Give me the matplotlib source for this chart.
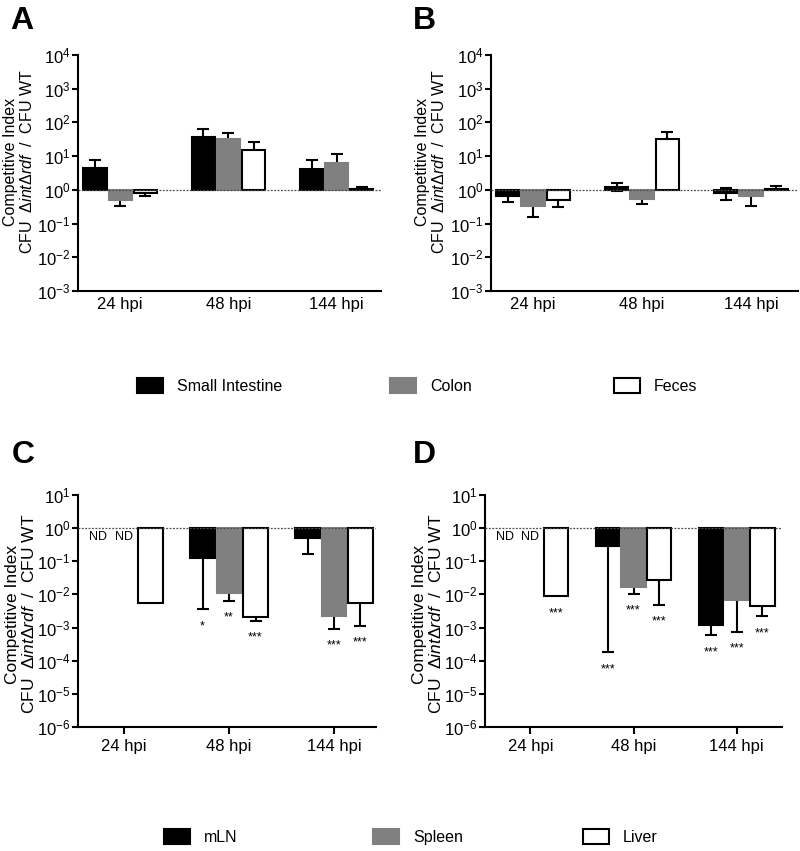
import matplotlib
matplotlib.use("Agg")
import matplotlib.pyplot as plt
import numpy as np
from matplotlib.patches import Patch

plt.rcParams["font.family"] = ["Liberation Sans", "DejaVu Sans"]
plt.rcParams["mathtext.fontset"] = "custom"
plt.rcParams["mathtext.rm"] = "Liberation Sans"
plt.rcParams["mathtext.it"] = "Liberation Sans:italic"
plt.rcParams["mathtext.bf"] = "Liberation Sans:bold"

timepoints = ["24 hpi", "48 hpi", "144 hpi"]
gut_sites = ["Small Intestine", "Colon", "Feces"]
systemic_sites = ["mLN", "Spleen", "Liver"]

# mean competitive index and end of the drawn error bar (None = not drawn / ND)
a_si = [4.4, 37, 4.2]
a_si_err = [7.9, 62, 7.8]
a_colon = [0.51, 33, 6.3]
a_colon_err = [0.33, 50, 11.7]
a_feces = [0.8, 15.5, 1.07]
a_feces_err = [0.64, 26, 1.25]

b_si = [0.64, 1.25, 0.8]
b_si_err = [0.45, 1.57, 0.51]
b_si_err_other = [None, 0.93, 1.15]
b_colon = [0.34, 0.53, 0.67]
b_colon_err = [0.16, 0.37, 0.34]
b_feces = [0.51, 32, 1.03]
b_feces_err = [0.32, 53, 1.3]

c_mln = [None, 0.13, 0.5]
c_mln_err = [None, 0.0036, 0.17]
c_spleen = [None, 0.011, 0.0023]
c_spleen_err = [None, 0.0065, 0.00091]
c_liver = [0.0054, 0.0021, 0.0056]
c_liver_err = [None, 0.0016, 0.00115]
c_mln_sig = ["ND", "*", ""]
c_spleen_sig = ["ND", "**", "***"]
c_liver_sig = ["", "***", "***"]

d_mln = [None, 0.29, 0.00123]
d_mln_err = [None, 0.00018, 0.00059]
d_spleen = [None, 0.0166, 0.0068]
d_spleen_err = [None, 0.0104, 0.00074]
d_liver = [0.0089, 0.0275, 0.0045]
d_liver_err = [None, 0.0049, 0.0022]
d_mln_sig = ["ND", "***", "***"]
d_spleen_sig = ["ND", "***", "***"]
d_liver_sig = ["***", "***", "***"]

fills = ["black", "#808080", "white"]
edges = ["black", "#808080", "black"]

W, H = 800, 851
fig = plt.figure(figsize=(W / 100, H / 100), dpi=100)


def px_axes(l, r, t, b):
    return fig.add_axes([l / W, 1 - b / H, (r - l) / W, (b - t) / H])


def err_line(ax, x, m, e, z=1):
    ax.plot([x, x], [m, e], color="black", lw=1.5, zorder=z, solid_capstyle="butt")
    ax.plot([x], [e], marker="_", ms=9, mew=1.5, color="black", zorder=z)


def panel(ax, means, errs, sigs, offset, width, ylim, xlim, fs, lfs, xticklen):
    x = np.arange(len(timepoints))
    for k in range(3):
        for i in range(3):
            m = means[k][i]
            if m is None:
                continue
            xi = x[i] + (k - 1) * offset
            ax.bar(xi, m - 1, bottom=1, width=width, color=fills[k],
                   edgecolor=edges[k], linewidth=1.5, zorder=2)
            if errs[k][i] is not None:
                err_line(ax, xi, m, errs[k][i])
    if sigs is not None:
        for k in range(3):
            for i in range(3):
                s = sigs[k][i]
                if not s:
                    continue
                xi = x[i] + (k - 1) * offset
                if s == "ND":
                    ax.annotate(s, (xi, 1), xytext=(0, -9), textcoords="offset pixels",
                                ha="center", va="center", fontsize=9)
                else:
                    vals = [v for v in (means[k][i], errs[k][i]) if v is not None]
                    ax.annotate(s, (xi, min(vals)), xytext=(0, -17),
                                textcoords="offset pixels", ha="center", va="center",
                                fontsize=9)
    ax.axhline(1, color="0.3", lw=0.9, ls=(0, (1.5, 1.2)), zorder=3)
    ax.set_yscale("log")
    ax.set_ylim(*ylim)
    ax.set_xlim(*xlim)
    ax.minorticks_off()
    ax.set_yticks([10.0 ** p for p in range(int(np.log10(ylim[0])), int(np.log10(ylim[1])) + 1)])
    ax.set_xticks(x, timepoints)
    for s in ["top", "right"]:
        ax.spines[s].set_visible(False)
    for s in ["left", "bottom"]:
        ax.spines[s].set_linewidth(1.5)
    ax.tick_params(axis="y", length=4, width=1.5, pad=1.5, labelsize=fs)
    ax.tick_params(axis="x", length=xticklen, width=1.5, pad=4, labelsize=fs)
    ax.set_ylabel("Competitive Index\nCFU  $\\mathit{\\Delta int\\Delta rdf}$  /  CFU WT",
                  fontsize=lfs, linespacing=1.1)


axA = px_axes(78, 381, 55, 291)
panel(axA, [a_si, a_colon, a_feces], [a_si_err, a_colon_err, a_feces_err], None,
      0.232, 0.215, (1e-3, 1e4), (-0.39, 2.41), 12, 11.5, 0)
axA.yaxis.set_label_coords((35 - 78) / 303, (291 - 162) / 236)

axB = px_axes(491, 798, 55, 291)
panel(axB, [b_si, b_colon, b_feces], [b_si_err, b_colon_err, b_feces_err], None,
      0.232, 0.215, (1e-3, 1e4), (-0.385, 2.43), 12, 11.5, 0)
xb = np.arange(3) - 0.232
for i, e in enumerate(b_si_err_other):
    if e is not None:
        err_line(axB, xb[i], b_si[i], e, z=1)
axB.yaxis.set_label_coords((447 - 491) / 307, (291 - 162) / 236)

axC = px_axes(78, 376, 495, 727)
panel(axC, [c_mln, c_spleen, c_liver], [c_mln_err, c_spleen_err, c_liver_err],
      [c_mln_sig, c_spleen_sig, c_liver_sig], 0.252, 0.235, (1e-6, 1e1), (-0.44, 2.40),
      12, 12.5, 5)
axC.yaxis.set_label_coords((37 - 78) / 298, (727 - 614) / 232)

axD = px_axes(485, 782, 495, 727)
panel(axD, [d_mln, d_spleen, d_liver], [d_mln_err, d_spleen_err, d_liver_err],
      [d_mln_sig, d_spleen_sig, d_liver_sig], 0.25, 0.235, (1e-6, 1e1), (-0.44, 2.44),
      12, 12.5, 5)
axD.yaxis.set_label_coords((444 - 485) / 297, (727 - 614) / 232)

for letter, x, y in [("A", 10, 6), ("B", 413, 6), ("C", 12, 440), ("D", 413, 440)]:
    fig.text(x / W, 1 - y / H, letter, fontsize=23, fontweight="bold", va="top", ha="left")


def legend_item(label, k, x, y):
    h = Patch(facecolor=fills[k], edgecolor=edges[k], linewidth=1.5)
    fig.legend([h], [label], loc="center left", bbox_to_anchor=(x / W, 1 - y / H),
               frameon=False, fontsize=11.5, handlelength=1.65, handleheight=1.05,
               handletextpad=0.85, borderpad=0, borderaxespad=0)


for k, (lab, x) in enumerate(zip(gut_sites, [137, 390, 614])):
    legend_item(lab, k, x, 386)
for k, (lab, x) in enumerate(zip(systemic_sites, [164, 373, 583])):
    legend_item(lab, k, x, 837)

fig.savefig("out.png", dpi=100)
